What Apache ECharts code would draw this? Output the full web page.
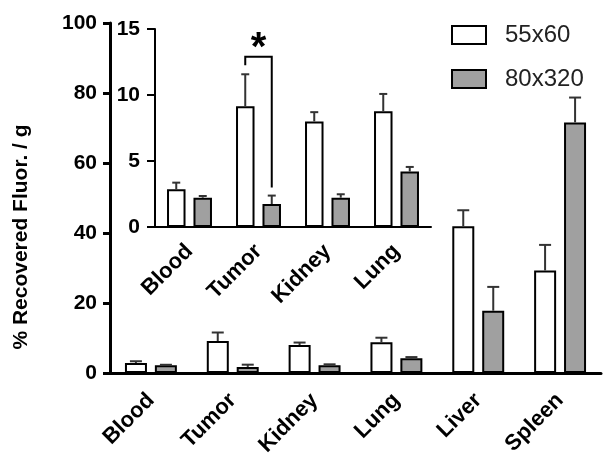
<!DOCTYPE html>
<html>
<head>
<meta charset="utf-8">
<script src="https://cdn.jsdelivr.net/npm/echarts@6/dist/echarts.min.js"></script>
<style>
  html, body { margin: 0; padding: 0; background: #fff; }
  #chart { width: 612px; height: 469px; }
</style>
</head>
<body>
<div id="chart"></div>
<script>
const FONT = "'Liberation Sans', Arial, sans-serif"

// organs, main chart and inset (first four)
const organs = ['Blood', 'Tumor', 'Kidney', 'Lung', 'Liver', 'Spleen']
const insetOrgans = ['Blood', 'Tumor', 'Kidney', 'Lung']

// 55x60 particles: mean and upper error
const mean55 = [2.86, 9.14, 8.0, 8.77, 41.9, 29.3]
const err55 = [0.5, 2.43, 0.7, 1.31, 4.6, 7.3]
// 80x320 particles
const mean80 = [2.22, 1.74, 2.22, 4.2, 17.8, 71.6]
const err80 = [0.13, 0.64, 0.26, 0.35, 6.8, 7.1]

// significance bracket on Tumor in the inset: [category, top, left leg end, right leg end]
const sigBracket = [[1, 12.9, 12.25, 3.0]]

const chart = echarts.init(document.getElementById('chart'))

function errorBars(offset, cap) {
  return function (params, api) {
    const i = api.value(0)
    const base = api.coord([i, api.value(1)])
    const top = api.coord([i, api.value(1) + api.value(2)])
    const x = base[0] + offset
    return {
      type: 'group',
      children: [
        { type: 'line', shape: { x1: x, y1: base[1], x2: x, y2: top[1] }, style: { stroke: '#333', lineWidth: 2 } },
        { type: 'line', shape: { x1: x - cap / 2, y1: top[1], x2: x + cap / 2, y2: top[1] }, style: { stroke: '#333', lineWidth: 2 } }
      ]
    }
  }
}

function errData(means, errs, n) {
  return means.slice(0, n).map((m, i) => [i, m, errs[i]])
}

const axisFont = { fontFamily: FONT, fontWeight: 'bold', color: '#000' }

chart.setOption({
  animation: false,
  legend: {
    orient: 'vertical',
    left: 446,
    top: 18,
    itemWidth: 34,
    itemHeight: 18,
    itemGap: 20,
    textStyle: { fontFamily: FONT, fontSize: 24, color: '#222', padding: [0, 0, 0, 14] },
    data: [
      { name: '55x60', icon: 'rect', itemStyle: { color: '#fff', borderColor: '#000', borderWidth: 2 } },
      { name: '80x320', icon: 'rect', itemStyle: { color: '#a0a0a0', borderColor: '#000', borderWidth: 2 } }
    ]
  },
  grid: [
    { left: 110, right: 11, top: 23, bottom: 96 },
    { left: 155, top: 29, width: 276, height: 198 }
  ],
  xAxis: [
    {
      type: 'category',
      gridIndex: 0,
      data: organs,
      axisLine: { lineStyle: { color: '#000', width: 3 } },
      axisTick: { alignWithLabel: true, length: 9, lineStyle: { color: '#000', width: 3 } },
      axisLabel: Object.assign({ interval: 0, rotate: 45, fontSize: 22, margin: 24 }, axisFont)
    },
    {
      type: 'category',
      gridIndex: 1,
      data: insetOrgans,
      axisLine: { lineStyle: { color: '#000', width: 2 } },
      axisTick: { alignWithLabel: true, length: 9, lineStyle: { color: '#000', width: 2 } },
      axisLabel: Object.assign({ interval: 0, rotate: 45, fontSize: 22, margin: 21 }, axisFont)
    }
  ],
  yAxis: [
    {
      type: 'value',
      gridIndex: 0,
      min: 0,
      max: 100,
      interval: 20,
      name: '% Recovered Fluor. / g',
      nameLocation: 'middle',
      nameGap: 78,
      nameTextStyle: { fontFamily: FONT, fontWeight: 'bold', fontSize: 21, color: '#000', padding: [0, 78, 0, 0] },
      axisLine: { show: true, lineStyle: { color: '#000', width: 3 } },
      axisTick: { show: true, length: 7, lineStyle: { color: '#000', width: 3 } },
      splitLine: { show: false },
      axisLabel: Object.assign({ fontSize: 21, margin: 13 }, axisFont)
    },
    {
      type: 'value',
      gridIndex: 1,
      min: 0,
      max: 15,
      interval: 5,
      axisLine: { show: true, lineStyle: { color: '#000', width: 2 } },
      axisTick: { show: true, length: 8, lineStyle: { color: '#000', width: 2 } },
      splitLine: { show: false },
      axisLabel: Object.assign({ fontSize: 21, margin: 15 }, axisFont)
    }
  ],
  series: [
    {
      name: '55x60', type: 'bar', xAxisIndex: 0, yAxisIndex: 0,
      barWidth: 22, barGap: '36%',
      itemStyle: { color: '#fff', borderColor: '#000', borderWidth: 2 },
      data: mean55
    },
    {
      name: '80x320', type: 'bar', xAxisIndex: 0, yAxisIndex: 0,
      barWidth: 22, barGap: '36%',
      itemStyle: { color: '#a0a0a0', borderColor: '#000', borderWidth: 2 },
      data: mean80
    },
    {
      name: '55x60', type: 'bar', xAxisIndex: 1, yAxisIndex: 1,
      barWidth: 18.5, barGap: '43%',
      itemStyle: { color: '#fff', borderColor: '#000', borderWidth: 2 },
      data: mean55.slice(0, 4)
    },
    {
      name: '80x320', type: 'bar', xAxisIndex: 1, yAxisIndex: 1,
      barWidth: 18.5, barGap: '43%',
      itemStyle: { color: '#a0a0a0', borderColor: '#000', borderWidth: 2 },
      data: mean80.slice(0, 4)
    },
    // error bars (upper only)
    { type: 'custom', xAxisIndex: 0, yAxisIndex: 0, z: 5, renderItem: errorBars(-15, 12), data: errData(mean55, err55, 6) },
    { type: 'custom', xAxisIndex: 0, yAxisIndex: 0, z: 5, renderItem: errorBars(15, 12), data: errData(mean80, err80, 6) },
    { type: 'custom', xAxisIndex: 1, yAxisIndex: 1, z: 5, renderItem: errorBars(-13.25, 8), data: errData(mean55, err55, 4) },
    { type: 'custom', xAxisIndex: 1, yAxisIndex: 1, z: 5, renderItem: errorBars(13.25, 8), data: errData(mean80, err80, 4) },
    // significance bracket with star
    {
      type: 'custom', xAxisIndex: 1, yAxisIndex: 1, z: 6,
      data: sigBracket,
      renderItem: function (params, api) {
        const i = api.value(0)
        const top = api.coord([i, api.value(1)])
        const lEnd = api.coord([i, api.value(2)])
        const rEnd = api.coord([i, api.value(3)])
        const xl = top[0] - 13.25
        const xr = top[0] + 13.25
        return {
          type: 'group',
          children: [
            { type: 'polyline', shape: { points: [[xl, lEnd[1]], [xl, top[1]], [xr, top[1]], [xr, rEnd[1]]] }, style: { stroke: '#000', lineWidth: 2, fill: null } },
            { type: 'text', x: top[0], y: top[1] + 12, style: { text: '*', font: 'bold 40px ' + FONT, fill: '#000', align: 'center', verticalAlign: 'bottom' } }
          ]
        }
      }
    }
  ]
})
</script>
</body>
</html>
